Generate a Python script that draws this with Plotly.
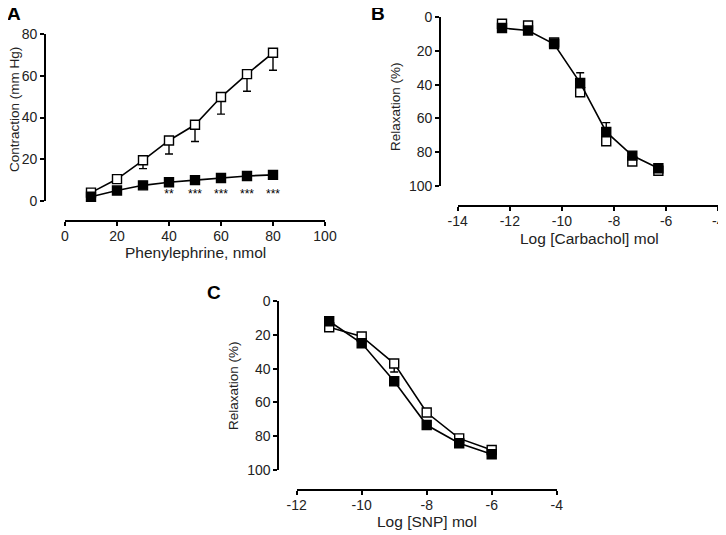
import plotly.graph_objects as go

W, H = 726, 535
PAGE_PAD = 8  # the browser puts the plot div 8px in from the top-left

# Panel A - phenylephrine contraction
pe_dose = [10, 20, 30, 40, 50, 60, 70, 80]
pe_open = [4, 10.5, 19.5, 29, 36.5, 49.8, 60.8, 71]
pe_open_err = [0, 0, 4, 6.5, 8, 8.2, 8.2, 8.4]
pe_filled = [2, 5, 7.5, 9, 10, 11, 12, 12.5]
pe_stars = ["", "", "", "**", "***", "***", "***", "***"]
pe_xticks = [0, 20, 40, 60, 80, 100]
pe_yticks = [0, 20, 40, 60, 80]

# Panel B - carbachol relaxation
cch_log = [-12.3, -11.3, -10.3, -9.3, -8.3, -7.3, -6.3]
cch_open = [4, 5, 15, 44.5, 73.5, 85.5, 91]
cch_filled = [6.5, 8, 16, 39, 68, 82, 89.5]
cch_filled_err = [0, 0, 3, 6, 5.5, 0, 0]
cch_xticks = [-14, -12, -10, -8, -6, -4]

# Panel C - SNP relaxation
snp_log = [-11, -10, -9, -8, -7, -6]
snp_open = [15.5, 21, 37, 66, 81.3, 88.2]
snp_open_err = [0, 0, 5, 0, 0, 0]
snp_filled = [12, 25, 47.5, 73.4, 84.2, 90.7]
snp_xticks = [-12, -10, -8, -6, -4]

relax_yticks = [0, 20, 40, 60, 80, 100]

FONT = "Liberation Sans, Arial, sans-serif"
FW, FH = W - PAGE_PAD, H - PAGE_PAD


def px(x):
    return (x - PAGE_PAD) / FW


def py(y):
    return 1 - (y - PAGE_PAD) / FH


def err_bars(up, down):
    return dict(type="data", symmetric=False, array=up, arrayminus=down,
                color="black", thickness=1.4, width=4)


def series(x, y, xa, ya, fill, line=True, err=None):
    t = go.Scatter(
        x=x, y=y, xaxis=xa, yaxis=ya,
        mode="lines+markers" if line else "markers",
        line=dict(color="black", width=1.6),
        marker=dict(symbol="square", size=9, color=fill,
                    line=dict(color="black", width=1.4)),
        cliponaxis=False, showlegend=False,
    )
    if err is not None:
        t.error_y = err
    return t


zeros = lambda n: [0] * n

fig = go.Figure()

# A
fig.add_trace(series(pe_dose, pe_open, "x", "y", "white",
                     err=err_bars(zeros(len(pe_open_err)), pe_open_err)))
fig.add_trace(series(pe_dose, pe_filled, "x", "y", "black"))
fig.add_trace(go.Scatter(
    x=pe_dose, y=[3.0] * len(pe_dose), xaxis="x", yaxis="y", mode="text",
    text=pe_stars, textfont=dict(family=FONT, size=12, color="black"),
    cliponaxis=False, showlegend=False,
))

# B
fig.add_trace(series(cch_log, cch_open, "x2", "y2", "white", line=False))
fig.add_trace(series(cch_log, cch_filled, "x2", "y2", "black",
                     err=err_bars(zeros(len(cch_filled_err)), cch_filled_err)))

# C
fig.add_trace(series(snp_log, snp_open, "x3", "y3", "white",
                     err=err_bars(snp_open_err, zeros(len(snp_open_err)))))
fig.add_trace(series(snp_log, snp_filled, "x3", "y3", "black"))

axis_style = dict(
    showgrid=False, zeroline=False, showline=True, linecolor="black",
    linewidth=1.8, ticks="outside", ticklen=4, tickwidth=1.6,
    tickcolor="black", tickfont=dict(family=FONT, size=14, color="#222"),
    anchor="free", automargin=False,
)
x_style = dict(axis_style, ticklabelstandoff=-2)


def ticks(vals):
    return dict(tickvals=vals, ticktext=[str(v) for v in vals])


fig.update_layout(
    width=FW, height=FH, margin=dict(l=0, r=0, t=0, b=0),
    paper_bgcolor="white", plot_bgcolor="white",
    xaxis=dict(x_style, domain=[px(65), px(325)], position=py(221),
               range=[0, 100], **ticks(pe_xticks)),
    yaxis=dict(axis_style, domain=[py(201), py(34)], position=px(45),
               range=[0, 80], **ticks(pe_yticks)),
    xaxis2=dict(x_style, domain=[px(457.7), px(718.3)], position=py(206),
                range=[-14, -4], **ticks(cch_xticks)),
    yaxis2=dict(axis_style, domain=[py(186), py(17)], position=px(440),
                range=[100, 0], **ticks(relax_yticks)),
    xaxis3=dict(x_style, domain=[px(296.7), px(556.7)], position=py(490),
                range=[-12, -4], **ticks(snp_xticks)),
    yaxis3=dict(axis_style, domain=[py(470), py(301)], position=px(278.3),
                range=[100, 0], **ticks(relax_yticks)),
)

labels = [
    ("A", 14, 13, 0, True),
    ("B", 378, 14, 0, True),
    ("C", 214, 292, 0, True),
    ("Contraction (mm Hg)", 14, 110, -90, False),
    ("Phenylephrine, nmol", 195, 253, 0, False),
    ("Relaxation (%)", 396, 106, -90, False),
    ("Log [Carbachol] mol", 589, 238, 0, False),
    ("Relaxation (%)", 233, 386, -90, False),
    ("Log [SNP] mol", 427, 521, 0, False),
]
for text, x, y, ang, bold in labels:
    fig.add_annotation(
        text=f"<b>{text}</b>" if bold else text,
        x=px(x), y=py(y), xref="paper", yref="paper",
        showarrow=False, textangle=ang, xanchor="center", yanchor="middle",
        font=dict(family=FONT, size=19 if bold else (13.5 if ang else 15.5),
                  color="black" if bold else "#222"),
    )

fig.write_html("out.html")
